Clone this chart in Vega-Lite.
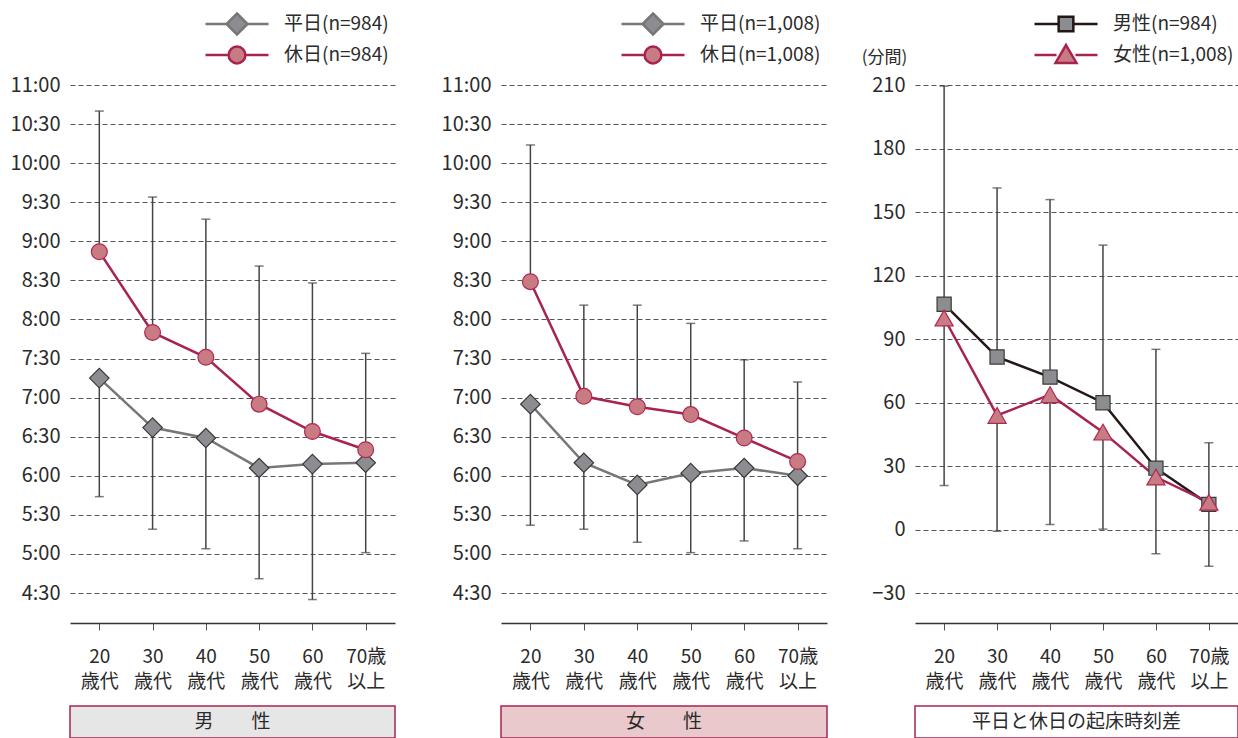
{
  "$schema": "https://vega.github.io/schema/vega-lite/v6.json",
  "background": "white",
  "padding": {"left": 10, "top": 12, "right": 0, "bottom": 0},
  "config": {
    "font": "Noto Sans CJK JP",
    "view": {"stroke": null},
    "axis": {"labelFont": "Noto Sans CJK JP", "labelFontSize": 19, "labelColor": "#2b2b2b", "titleFont": "Noto Sans CJK JP", "titleColor": "#2b2b2b"},
    "axisX": {"title": null, "labelAngle": 0, "grid": false, "domainColor": "#333333", "domainWidth": 1.5, "tickColor": "#555555", "tickSize": 7, "tickWidth": 1, "labelPadding": 17, "labelLineHeight": 25, "labelExpr": "split(datum.value, '|')"},
    "axisY": {"grid": true, "gridDash": [5, 3], "gridColor": "#555555", "gridWidth": 1, "domain": false, "ticks": false, "labelPadding": 10, "labelFontSize": 20},
    "legend": {"labelFont": "Noto Sans CJK JP", "labelFontSize": 19, "labelColor": "#2b2b2b", "symbolSize": 441, "labelOffset": 56, "orient": "none", "title": null, "padding": 0, "symbolStrokeWidth": 2.5},
    "text": {"font": "Noto Sans CJK JP"}
  },
  "datasets": {
    "men": [
      {"age": "20|歳代", "s": "平日(n=984)", "v": 435, "e": 344},
      {"age": "30|歳代", "s": "平日(n=984)", "v": 397, "e": 319},
      {"age": "40|歳代", "s": "平日(n=984)", "v": 389, "e": 304},
      {"age": "50|歳代", "s": "平日(n=984)", "v": 366, "e": 281},
      {"age": "60|歳代", "s": "平日(n=984)", "v": 369, "e": 265},
      {"age": "70歳|以上", "s": "平日(n=984)", "v": 370, "e": 301},
      {"age": "20|歳代", "s": "休日(n=984)", "v": 532, "e": 640},
      {"age": "30|歳代", "s": "休日(n=984)", "v": 470, "e": 574},
      {"age": "40|歳代", "s": "休日(n=984)", "v": 451, "e": 557},
      {"age": "50|歳代", "s": "休日(n=984)", "v": 415, "e": 521},
      {"age": "60|歳代", "s": "休日(n=984)", "v": 394, "e": 508},
      {"age": "70歳|以上", "s": "休日(n=984)", "v": 380, "e": 454}
    ],
    "women": [
      {"age": "20|歳代", "s": "平日(n=1,008)", "v": 415, "e": 322},
      {"age": "30|歳代", "s": "平日(n=1,008)", "v": 370, "e": 319},
      {"age": "40|歳代", "s": "平日(n=1,008)", "v": 353, "e": 309},
      {"age": "50|歳代", "s": "平日(n=1,008)", "v": 362, "e": 301},
      {"age": "60|歳代", "s": "平日(n=1,008)", "v": 366, "e": 310},
      {"age": "70歳|以上", "s": "平日(n=1,008)", "v": 360, "e": 304},
      {"age": "20|歳代", "s": "休日(n=1,008)", "v": 509, "e": 614},
      {"age": "30|歳代", "s": "休日(n=1,008)", "v": 421, "e": 491},
      {"age": "40|歳代", "s": "休日(n=1,008)", "v": 413, "e": 491},
      {"age": "50|歳代", "s": "休日(n=1,008)", "v": 407, "e": 477},
      {"age": "60|歳代", "s": "休日(n=1,008)", "v": 389, "e": 449},
      {"age": "70歳|以上", "s": "休日(n=1,008)", "v": 371, "e": 432}
    ],
    "diff": [
      {"age": "20|歳代", "s": "男性(n=984)", "v": 106.5, "e": 209.5},
      {"age": "30|歳代", "s": "男性(n=984)", "v": 81.6, "e": 161.4},
      {"age": "40|歳代", "s": "男性(n=984)", "v": 72.1, "e": 155.9},
      {"age": "50|歳代", "s": "男性(n=984)", "v": 60, "e": 134.4},
      {"age": "60|歳代", "s": "男性(n=984)", "v": 29.1, "e": 85.2},
      {"age": "70歳|以上", "s": "男性(n=984)", "v": 12, "e": 41.1},
      {"age": "20|歳代", "s": "女性(n=1,008)", "v": 100, "e": 20.9},
      {"age": "30|歳代", "s": "女性(n=1,008)", "v": 54, "e": -0.7},
      {"age": "40|歳代", "s": "女性(n=1,008)", "v": 63.8, "e": 2.5},
      {"age": "50|歳代", "s": "女性(n=1,008)", "v": 46.1, "e": 0.3},
      {"age": "60|歳代", "s": "女性(n=1,008)", "v": 24.9, "e": -11.3},
      {"age": "70歳|以上", "s": "女性(n=1,008)", "v": 13, "e": -17.2}
    ]
  },
  "resolve": {"scale": {"color": "independent", "stroke": "independent", "x": "independent", "y": "independent"}},
  "spacing": 45,
  "hconcat": [
    {
      "spacing": 14,
      "vconcat": [
        {
          "width": 325, "height": 538,
          "data": {"name": "men"},
          "encoding": {"x": {"field": "age", "type": "ordinal", "scale": {"type": "point", "domain": ["20|歳代", "30|歳代", "40|歳代", "50|歳代", "60|歳代", "70歳|以上"], "padding": 0.55}}},
          "layer": [
            {"mark": {"type": "rule", "color": "#444444", "strokeWidth": 1.5},
             "encoding": {"y": {"field": "v", "type": "quantitative", "title": null, "scale": {"domain": [247, 660], "nice": false, "zero": false}, "axis": {"values": [270, 300, 330, 360, 390, 420, 450, 480, 510, 540, 570, 600, 630, 660], "labelExpr": "floor(datum.value/60) + ':' + (datum.value % 60 < 10 ? '0' : '') + (datum.value % 60)"}}, "y2": {"field": "e"}}},
            {"mark": {"type": "tick", "color": "#444444", "thickness": 1.5, "size": 9}, "encoding": {"y": {"field": "e", "type": "quantitative", "title": null}}},
            {"transform": [{"filter": "datum.s == '平日(n=984)'"}],
             "mark": {"type": "line", "strokeWidth": 2.5},
             "encoding": {"y": {"field": "v", "type": "quantitative", "title": null},
               "color": {"field": "s", "type": "nominal", "scale": {"domain": ["平日(n=984)"], "range": ["#777777"]},
                 "legend": {"legendX": 134, "legendY": -73, "symbolType": "M-1,0L1,0M3,0L5,0M2,-1L3,0L2,1L1,0Z", "symbolFillColor": "#8c8d90", "symbolStrokeColor": "#777777"}}}},
            {"transform": [{"filter": "datum.s == '休日(n=984)'"}],
             "mark": {"type": "line", "strokeWidth": 2.5},
             "encoding": {"y": {"field": "v", "type": "quantitative", "title": null},
               "stroke": {"field": "s", "type": "nominal", "scale": {"domain": ["休日(n=984)"], "range": ["#a8234f"]},
                 "legend": {"legendX": 134, "legendY": -42, "symbolType": "M-1,0L1.2,0M2.8,0L5,0M1.2,0A0.8,0.8,0,1,0,2.8,0A0.8,0.8,0,1,0,1.2,0Z", "symbolFillColor": "#c97b84", "symbolStrokeColor": "#a8234f"}}}},
            {"transform": [{"filter": "datum.s == '平日(n=984)'"}],
             "mark": {"type": "point", "shape": "diamond", "filled": true, "opacity": 1, "fill": "#8c8d90", "stroke": "#3a3a3a", "strokeWidth": 1.2, "size": 380},
             "encoding": {"y": {"field": "v", "type": "quantitative", "title": null}}},
            {"transform": [{"filter": "datum.s == '休日(n=984)'"}],
             "mark": {"type": "point", "shape": "circle", "filled": true, "opacity": 1, "fill": "#c97b84", "stroke": "#b0284f", "strokeWidth": 1.2, "size": 250},
             "encoding": {"y": {"field": "v", "type": "quantitative", "title": null}}}
          ]
        },
        {
          "width": 325, "height": 32,
          "data": {"values": [{"t": "男　　性"}]},
          "mark": {"type": "text", "fontSize": 19, "color": "#2b2b2b"},
          "encoding": {"text": {"field": "t"}},
          "view": {"fill": "#e6e6e7", "stroke": "#a8234f", "strokeWidth": 1.5}
        }
      ]
    },
    {
      "resolve": {"scale": {"color": "independent", "stroke": "independent", "x": "independent", "y": "independent"}},
      "spacing": 33,
      "hconcat": [
        {
          "spacing": 14,
          "vconcat": [
            {
              "width": 326, "height": 538,
              "data": {"name": "women"},
              "encoding": {"x": {"field": "age", "type": "ordinal", "scale": {"type": "point", "domain": ["20|歳代", "30|歳代", "40|歳代", "50|歳代", "60|歳代", "70歳|以上"], "padding": 0.55}}},
              "layer": [
                {"mark": {"type": "rule", "color": "#444444", "strokeWidth": 1.5},
                 "encoding": {"y": {"field": "v", "type": "quantitative", "title": null, "scale": {"domain": [247, 660], "nice": false, "zero": false}, "axis": {"values": [270, 300, 330, 360, 390, 420, 450, 480, 510, 540, 570, 600, 630, 660], "labelExpr": "floor(datum.value/60) + ':' + (datum.value % 60 < 10 ? '0' : '') + (datum.value % 60)"}}, "y2": {"field": "e"}}},
                {"mark": {"type": "tick", "color": "#444444", "thickness": 1.5, "size": 9}, "encoding": {"y": {"field": "e", "type": "quantitative", "title": null}}},
                {"transform": [{"filter": "datum.s == '平日(n=1,008)'"}],
                 "mark": {"type": "line", "strokeWidth": 2.5},
                 "encoding": {"y": {"field": "v", "type": "quantitative", "title": null},
                   "color": {"field": "s", "type": "nominal", "scale": {"domain": ["平日(n=1,008)"], "range": ["#777777"]},
                     "legend": {"legendX": 119, "legendY": -73, "symbolType": "M-1,0L1,0M3,0L5,0M2,-1L3,0L2,1L1,0Z", "symbolFillColor": "#8c8d90", "symbolStrokeColor": "#777777"}}}},
                {"transform": [{"filter": "datum.s == '休日(n=1,008)'"}],
                 "mark": {"type": "line", "strokeWidth": 2.5},
                 "encoding": {"y": {"field": "v", "type": "quantitative", "title": null},
                   "stroke": {"field": "s", "type": "nominal", "scale": {"domain": ["休日(n=1,008)"], "range": ["#a8234f"]},
                     "legend": {"legendX": 119, "legendY": -42, "symbolType": "M-1,0L1.2,0M2.8,0L5,0M1.2,0A0.8,0.8,0,1,0,2.8,0A0.8,0.8,0,1,0,1.2,0Z", "symbolFillColor": "#c97b84", "symbolStrokeColor": "#a8234f"}}}},
                {"transform": [{"filter": "datum.s == '平日(n=1,008)'"}],
                 "mark": {"type": "point", "shape": "diamond", "filled": true, "opacity": 1, "fill": "#8c8d90", "stroke": "#3a3a3a", "strokeWidth": 1.2, "size": 380},
                 "encoding": {"y": {"field": "v", "type": "quantitative", "title": null}}},
                {"transform": [{"filter": "datum.s == '休日(n=1,008)'"}],
                 "mark": {"type": "point", "shape": "circle", "filled": true, "opacity": 1, "fill": "#c97b84", "stroke": "#b0284f", "strokeWidth": 1.2, "size": 250},
                 "encoding": {"y": {"field": "v", "type": "quantitative", "title": null}}}
              ]
            },
            {
              "width": 326, "height": 32,
              "data": {"values": [{"t": "女　　性"}]},
              "mark": {"type": "text", "fontSize": 19, "color": "#2b2b2b"},
              "encoding": {"text": {"field": "t"}},
              "view": {"fill": "#e9c9cc", "stroke": "#a8234f", "strokeWidth": 1.5}
            }
          ]
        },
        {
          "spacing": 14,
          "vconcat": [
            {
              "width": 323, "height": 538,
              "data": {"name": "diff"},
              "encoding": {"x": {"field": "age", "type": "ordinal", "scale": {"type": "point", "domain": ["20|歳代", "30|歳代", "40|歳代", "50|歳代", "60|歳代", "70歳|以上"], "padding": 0.55}}},
              "layer": [
                {"mark": {"type": "rule", "color": "#444444", "strokeWidth": 1.5},
                 "encoding": {"y": {"field": "v", "type": "quantitative", "scale": {"domain": [-44, 210], "nice": false, "zero": false}, "axis": {"title": "(分間)", "values": [-30, 0, 30, 60, 90, 120, 150, 180, 210], "labelExpr": "datum.value < 0 ? '−' + abs(datum.value) : datum.label", "titleAngle": 0, "titleX": -31, "titleY": -28, "titleAlign": "center", "titleBaseline": "middle", "titleFontSize": 17, "titleFontWeight": "normal"}}, "y2": {"field": "e"}}},
                {"mark": {"type": "tick", "color": "#444444", "thickness": 1.5, "size": 9}, "encoding": {"y": {"field": "e", "type": "quantitative"}}},
                {"transform": [{"filter": "datum.s == '男性(n=984)'"}],
                 "mark": {"type": "line", "strokeWidth": 2.5},
                 "encoding": {"y": {"field": "v", "type": "quantitative"},
                   "color": {"field": "s", "type": "nominal", "scale": {"domain": ["男性(n=984)"], "range": ["#231815"]},
                     "legend": {"legendX": 118, "legendY": -73, "symbolType": "M-1,0L1.3,0M2.7,0L5,0M1.3,-0.7L2.7,-0.7L2.7,0.7L1.3,0.7Z", "symbolFillColor": "#8c8d90", "symbolStrokeColor": "#231815"}}}},
                {"transform": [{"filter": "datum.s == '女性(n=1,008)'"}],
                 "mark": {"type": "line", "strokeWidth": 2.5},
                 "encoding": {"y": {"field": "v", "type": "quantitative"},
                   "stroke": {"field": "s", "type": "nominal", "scale": {"domain": ["女性(n=1,008)"], "range": ["#a8234f"]},
                     "legend": {"legendX": 118, "legendY": -42, "symbolType": "M-1,0L1.1,0M2.9,0L5,0M2,-0.95L3,0.75L1,0.75Z", "symbolFillColor": "#c97b84", "symbolStrokeColor": "#a8234f"}}}},
                {"transform": [{"filter": "datum.s == '男性(n=984)'"}],
                 "mark": {"type": "point", "shape": "square", "filled": true, "opacity": 1, "fill": "#8c8d90", "stroke": "#3a3a3a", "strokeWidth": 1.2, "size": 200},
                 "encoding": {"y": {"field": "v", "type": "quantitative"}}},
                {"transform": [{"filter": "datum.s == '女性(n=1,008)'"}],
                 "mark": {"type": "point", "shape": "triangle-up", "filled": true, "opacity": 1, "fill": "#c97b84", "stroke": "#b0284f", "strokeWidth": 1.2, "size": 330},
                 "encoding": {"y": {"field": "v", "type": "quantitative"}}}
              ]
            },
            {
              "width": 323, "height": 32,
              "data": {"values": [{"t": "平日と休日の起床時刻差"}]},
              "mark": {"type": "text", "fontSize": 19, "color": "#2b2b2b"},
              "encoding": {"text": {"field": "t"}},
              "view": {"fill": "#ffffff", "stroke": "#a8234f", "strokeWidth": 1.5}
            }
          ]
        }
      ]
    }
  ]
}
